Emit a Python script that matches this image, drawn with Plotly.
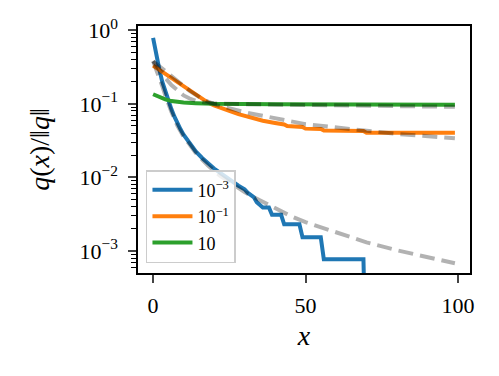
import plotly.graph_objects as go

# solid curves
x_blue = [0, 1, 2, 3, 4, 5, 6, 7, 8, 9, 10, 12, 14, 16, 18, 20, 22, 24, 26, 28, 30, 31, 33, 34, 36, 38, 39, 42, 43, 48, 49, 55, 56, 69, 70]
y_blue = [0.79, 0.47, 0.30, 0.20, 0.145, 0.11, 0.085, 0.067, 0.054, 0.045, 0.038, 0.029, 0.0225, 0.0185, 0.0155, 0.0132, 0.0115,
          0.0100, 0.0088, 0.0077, 0.0069, 0.0062, 0.0054, 0.0046, 0.0039, 0.0039, 0.0031, 0.0031, 0.0023, 0.0023, 0.00154,
          0.00154, 0.00077, 0.00077, 1e-5]

x_orange = [0, 2, 4, 6, 8, 10, 12, 14, 16, 18, 20, 22, 25, 28, 32, 36, 40, 43, 44, 49, 50, 55, 56, 69, 70, 99]
y_orange = [0.33, 0.29, 0.255, 0.222, 0.195, 0.172, 0.152, 0.134, 0.118, 0.104, 0.095, 0.088, 0.080, 0.0725, 0.065, 0.059,
            0.055, 0.0525, 0.050, 0.0485, 0.046, 0.0455, 0.0435, 0.0428, 0.0405, 0.0405]

x_green = [0, 2, 4, 6, 8, 10, 14, 20, 40, 70, 99]
y_green = [0.135, 0.123, 0.115, 0.109, 0.106, 0.104, 0.102, 0.100, 0.099, 0.098, 0.097]

# dashed reference curves
x_ref_blue = [0, 1, 2, 3, 4, 5, 6, 8, 10, 12, 14, 18, 22, 26, 30, 35, 40, 45, 50, 55, 60, 70, 80, 90, 99]
y_ref_blue = [0.38, 0.30, 0.23, 0.175, 0.13, 0.10, 0.078, 0.05, 0.036, 0.028, 0.0215, 0.0145, 0.0105, 0.0082, 0.0063,
              0.0049, 0.0038, 0.0030, 0.00246, 0.0021, 0.00175, 0.00131, 0.00102, 0.00082, 0.00068]

x_ref_orange = [0, 3, 6, 9, 12, 15, 18, 21, 25, 30, 35, 40, 45, 50, 60, 70, 80, 90, 99]
y_ref_orange = [0.38, 0.30, 0.235, 0.185, 0.15, 0.125, 0.107, 0.096, 0.086, 0.077, 0.070, 0.063, 0.058, 0.053, 0.047,
                0.043, 0.039, 0.036, 0.034]

x_ref_green = [0, 2, 4, 6, 8, 10, 12, 14, 17, 20, 30, 50, 70, 85, 99]
y_ref_green = [0.38, 0.29, 0.225, 0.18, 0.15, 0.13, 0.118, 0.11, 0.104, 0.101, 0.099, 0.097, 0.095, 0.093, 0.091]

labels = ["10<sup>\u22123</sup>", "10<sup>\u22121</sup>", "10"]
colors = ["#1f77b4", "#ff7f0e", "#2ca02c"]

y_ticks = [1e-3, 1e-2, 1e-1, 1]
y_ticktext = ["10<sup>\u22123</sup>", "10<sup>\u22122</sup>", "10<sup>\u22121</sup>", "10<sup>0</sup>"]
y_minor = [m * 10.0 ** k for k in range(-4, 0) for m in range(2, 10)]

font = "Liberation Serif"

fig = go.Figure()
solid = [(x_blue, y_blue), (x_orange, y_orange), (x_green, y_green)]
for (xs, ys), lab, col in zip(solid, labels, colors):
    fig.add_trace(go.Scatter(x=xs, y=ys, mode="lines", name=lab,
                             line=dict(color=col, width=4)))

refs = [(x_ref_blue, y_ref_blue), (x_ref_orange, y_ref_orange), (x_ref_green, y_ref_green)]
for xs, ys in refs:
    fig.add_trace(go.Scatter(x=xs, y=ys, mode="lines", showlegend=False,
                             line=dict(color="rgba(0,0,0,0.3)", width=4, dash="15px,7px")))

# the page body has an 8px margin, so the figure is made 8px smaller
fig.update_layout(
    width=491, height=368,
    margin=dict(l=130, r=29, t=18, b=103, autoexpand=False),
    plot_bgcolor="white", paper_bgcolor="white",
    font=dict(family=font, color="black", size=22),
    legend=dict(x=0.024, y=0.04, xanchor="left", yanchor="bottom",
                bgcolor="rgba(255,255,255,0.8)", bordercolor="#cccccc", borderwidth=1.5,
                font=dict(family=font, size=18), tracegroupgap=0, itemwidth=40,
                entrywidth=108, entrywidthmode="pixels"),
    showlegend=True,
)
fig.update_xaxes(
    range=[-4.95, 103.95], tickvals=[0, 50, 100], ticks="outside", ticklen=8, tickwidth=1.5,
    showline=True, linewidth=1.5, linecolor="black", mirror=True, showgrid=False, zeroline=False,
    tickfont=dict(family=font, size=22), ticklabelstandoff=4, automargin=False,
    title=dict(text="<i>x</i>", font=dict(family=font, size=28), standoff=8),
)
fig.update_yaxes(
    type="log", range=[-3.3, 0.058], tickvals=y_ticks, ticktext=y_ticktext,
    ticks="outside", ticklen=8, tickwidth=1.5,
    minor=dict(tickvals=y_minor, ticks="outside", ticklen=5, tickwidth=1, tickcolor="black", showgrid=False),
    showline=True, linewidth=1.5, linecolor="black", mirror=True, showgrid=False, zeroline=False,
    tickfont=dict(family=font, size=22), ticklabelstandoff=6, automargin=False,
    title=dict(text="<i>q</i>(<i>x</i>)/\u2016<i>q</i>\u2016", font=dict(family=font, size=28), standoff=22),
)

fig.write_html("out.html")
